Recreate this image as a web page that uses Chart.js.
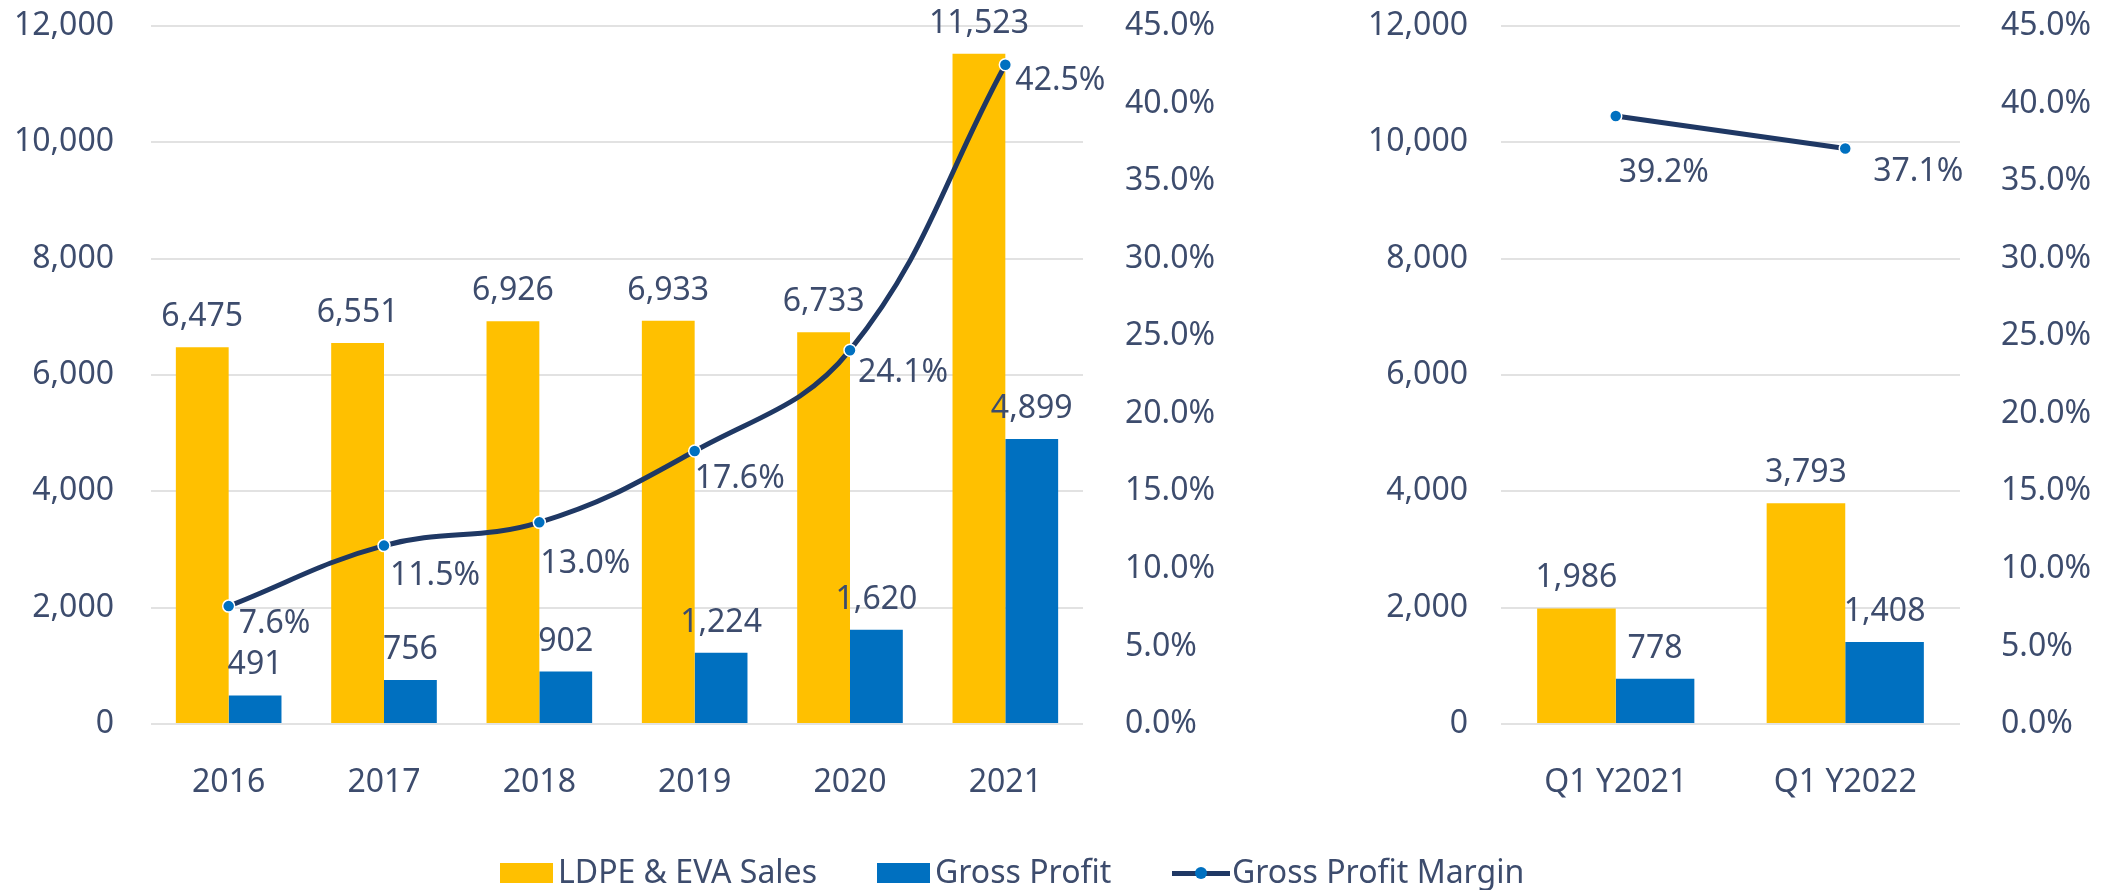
<!DOCTYPE html>
<html>
<head>
  <meta charset="utf-8">
  <title>LDPE &amp; EVA Sales, Gross Profit and Margin</title>
  <script src="https://cdn.jsdelivr.net/npm/chart.js"></script>
  <style>
    body {
      margin: 0;
      background: #fff;
      font-family: 'Noto Sans', sans-serif;
    }
    .wrap {
      position: relative;
      width: 2108px;
      height: 890px;
      overflow: hidden;
    }
    #yearChart { position: absolute; left: 0; top: 0; }
    #quarterChart { position: absolute; left: 1320px; top: 0; }

    /* shared legend under both charts */
    .legend-item {
      position: absolute;
      top: 853px;
      height: 36px;
      line-height: 36px;
      display: flex;
      align-items: center;
      font-size: 32px;
      color: #3D4C6D;
      white-space: nowrap;
    }
    .swatch { width: 53px; height: 20px; margin: 4px 5px 0 0; }
    .line-key { position: relative; width: 58px; height: 5px; margin: 4px 2px 0 0; }
    .line-key span {
      position: absolute; left: 23px; top: -4px;
      width: 12px; height: 12px; border-radius: 50%;
    }
  </style>
</head>
<body>
<div class="wrap">
  <canvas id="yearChart" width="1320" height="890"></canvas>
  <canvas id="quarterChart" width="788" height="890"></canvas>
  <div id="legend"></div>
</div>

<script>
  // yearly figures
  const years = ['2016', '2017', '2018', '2019', '2020', '2021'];
  const yearSales = [6475, 6551, 6926, 6933, 6733, 11523];
  const yearProfit = [491, 756, 902, 1224, 1620, 4899];
  const yearMargin = [7.6, 11.5, 13.0, 17.6, 24.1, 42.5];

  // first quarter figures
  const quarters = ['Q1 Y2021', 'Q1 Y2022'];
  const quarterSales = [1986, 3793];
  const quarterProfit = [778, 1408];
  const quarterMargin = [39.2, 37.1];

  const seriesNames = ['LDPE & EVA Sales', 'Gross Profit', 'Gross Profit Margin'];

  const YELLOW = '#FFC000';
  const BLUE = '#0070C0';
  const NAVY = '#1F3864';
  const TEXT = '#3D4C6D';
  const GRID = '#E2E2E2';
  const FONT = { family: "'Noto Sans', sans-serif", size: 32 };

  // draws the value labels (bars above, margin labels below-right of the point)
  const valueLabels = {
    id: 'valueLabels',
    afterDatasetsDraw(chart, args, opts) {
      const ctx = chart.ctx;
      ctx.save();
      ctx.font = "32px 'Noto Sans', sans-serif";
      ctx.fillStyle = TEXT;
      ctx.textBaseline = 'alphabetic';
      chart.data.datasets.forEach((ds, i) => {
        const meta = chart.getDatasetMeta(i);
        meta.data.forEach((el, j) => {
          const v = ds.data[j];
          if (ds.type === 'line') {
            const off = opts.marginOffsets[j];
            ctx.textAlign = 'left';
            ctx.fillText(v.toFixed(1) + '%', el.x + off[0], el.y + off[1]);
          } else {
            ctx.textAlign = 'center';
            ctx.fillText(v.toLocaleString('en-US'), el.x, el.y - 21);
          }
        });
      });
      ctx.restore();
    }
  };

  // fixed axis width; drop the vertical label padding so the plot starts where wanted
  function fixWidth(w) {
    return s => { s.width = w; s.paddingTop = 0; s.paddingBottom = 0; };
  }

  function makeChart(id, labels, sales, profit, margin, cfg) {
    return new Chart(document.getElementById(id), {
      type: 'bar',
      data: {
        labels: labels,
        datasets: [
          {
            type: 'line',
            label: seriesNames[2],
            data: margin,
            yAxisID: 'y1',
            borderColor: NAVY,
            borderWidth: 5,
            tension: cfg.tension,
            pointRadius: 6,
            pointBackgroundColor: BLUE,
            pointBorderColor: '#ffffff',
            pointBorderWidth: 1.5,
            fill: false
          },
          {
            label: seriesNames[0],
            data: sales,
            backgroundColor: YELLOW,
            yAxisID: 'y',
            categoryPercentage: cfg.groupWidth,
            barPercentage: 1
          },
          {
            label: seriesNames[1],
            data: profit,
            backgroundColor: BLUE,
            yAxisID: 'y',
            categoryPercentage: cfg.groupWidth,
            barPercentage: 1
          }
        ]
      },
      options: {
        responsive: false,
        animation: false,
        layout: { padding: { top: 26, bottom: 0, left: 0, right: 0 } },
        plugins: {
          legend: { display: false },
          tooltip: { enabled: false },
          valueLabels: { marginOffsets: cfg.marginOffsets }
        },
        scales: {
          x: {
            grid: { display: false },
            border: { display: false },
            ticks: { font: FONT, color: TEXT, padding: 32 },
            afterFit: s => { s.height = 166; }
          },
          y: {
            position: 'left',
            min: 0, max: 12000,
            grid: { color: GRID, lineWidth: 2, drawTicks: false },
            border: { display: false },
            ticks: {
              stepSize: 2000, font: FONT, color: TEXT, padding: cfg.leftPad,
              callback: v => v.toLocaleString('en-US')
            },
            afterFit: fixWidth(cfg.leftWidth)
          },
          y1: {
            position: 'right',
            min: 0, max: 45,
            grid: { display: false },
            border: { display: false },
            ticks: {
              stepSize: 5, font: FONT, color: TEXT, padding: cfg.rightPad,
              callback: v => v.toFixed(1) + '%'
            },
            afterFit: fixWidth(cfg.rightWidth)
          }
        }
      },
      plugins: [valueLabels]
    });
  }

  makeChart('yearChart', years, yearSales, yearProfit, yearMargin, {
    tension: 0.4, groupWidth: 0.68,
    leftWidth: 151, leftPad: 37, rightWidth: 237, rightPad: 34,
    marginOffsets: [[10, 27], [6, 39], [1, 51], [0, 37], [8, 32], [10, 25]]
  });

  makeChart('quarterChart', quarters, quarterSales, quarterProfit, quarterMargin, {
    tension: 0, groupWidth: 0.685,
    leftWidth: 181, leftPad: 33, rightWidth: 148, rightPad: 33,
    marginOffsets: [[3, 66], [28, 32]]
  });

  // legend shared by both charts
  const legend = document.getElementById('legend');
  const legendLeft = [500, 877, 1172];
  const legendKeys = [
    `<div class="swatch" style="background:${YELLOW}"></div>`,
    `<div class="swatch" style="background:${BLUE}"></div>`,
    `<div class="line-key" style="background:${NAVY}"><span style="background:${BLUE}"></span></div>`
  ];
  seriesNames.forEach((name, i) => {
    const item = document.createElement('div');
    item.className = 'legend-item';
    item.style.left = legendLeft[i] + 'px';
    item.innerHTML = legendKeys[i] + '<span></span>';
    item.lastChild.textContent = name;
    legend.appendChild(item);
  });
</script>
</body>
</html>
